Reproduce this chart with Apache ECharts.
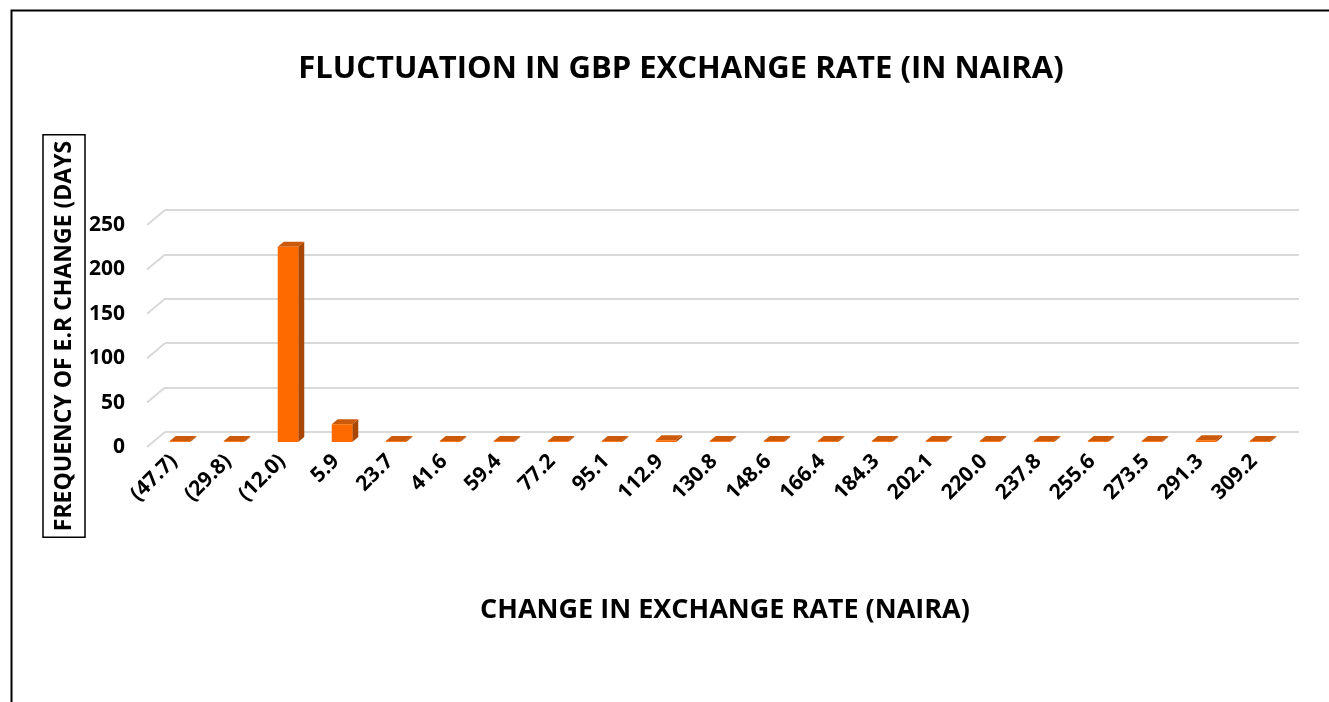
<!DOCTYPE html>
<html>
<head>
<meta charset="utf-8">
<script src="https://cdn.jsdelivr.net/npm/echarts@6/dist/echarts.min.js"></script>
<style>
  html, body { margin: 0; padding: 0; background: #fff; }
  #main { width: 1329px; height: 702px; }
</style>
</head>
<body>
<div id="main"></div>
<script>
// histogram bins (change in naira) and number of days in each
var categories = ['(47.7)', '(29.8)', '(12.0)', '5.9', '23.7', '41.6', '59.4', '77.2', '95.1', '112.9',
                  '130.8', '148.6', '166.4', '184.3', '202.1', '220.0', '237.8', '255.6', '273.5', '291.3', '309.2'];
var frequency = [1, 1, 220, 20, 1, 1, 1, 1, 1, 2, 1, 1, 1, 1, 1, 1, 1, 1, 1, 2, 1];
var yTicks = [0, 50, 100, 150, 200, 250];

var FONT = 'Open Sans';
// fake depth of the excel 3d look: back wall sits up-right of front plane
var DX = 18, DY = 15;

var chart = echarts.init(document.getElementById('main'));

function barItem(params, api) {
    var idx = api.value(0), val = api.value(1);
    var base = api.coord([idx, 0]);
    var top = api.coord([idx, val]);
    var band = api.size([1, 0])[0];
    var w = band * 0.38;
    var fx = DX / 3, fy = -DY / 3;          // front face of bar at 1/3 depth
    var sx = DX / 3, sy = -DY / 3;          // bar depth
    var x0 = base[0] - w / 2 + fx, x1 = x0 + w;
    var yb = base[1] + fy, yt = Math.min(top[1], base[1] - 0.8) + fy;
    return {
        type: 'group',
        children: [
            { type: 'polygon', shape: { points: [[x1, yt], [x1 + sx, yt + sy], [x1 + sx, yb + sy], [x1, yb]] },
              style: { fill: '#A94600' } },
            { type: 'polygon', shape: { points: [[x0, yt], [x0 + sx, yt + sy], [x1 + sx, yt + sy], [x1, yt]] },
              style: { fill: '#CC5A0C' } },
            { type: 'rect', shape: { x: x0, y: yt, width: w, height: yb - yt },
              style: { fill: '#FF6A00' } }
        ]
    };
}

function sideLine(params, api) {
    var p = api.coord([0, api.value(1)]);
    var x = params.coordSys.x;
    return {
        type: 'line',
        shape: { x1: x, y1: p[1], x2: x + DX, y2: p[1] - DY },
        style: { stroke: '#d9d9d9', lineWidth: 2 }
    };
}

var option = {
    backgroundColor: '#fff',
    animation: false,
    graphic: [{
        type: 'rect', left: 9, top: 8, silent: true, z: -1,
        shape: { width: 1400, height: 800 },
        style: { fill: 'none', stroke: '#000', lineWidth: 2 }
    }],
    title: {
        text: 'FLUCTUATION IN GBP EXCHANGE RATE (IN NAIRA)',
        left: 676, top: 49, textAlign: 'center',
        textStyle: { fontFamily: FONT, fontWeight: 'bold', fontSize: 31, color: '#000' }
    },
    grid: [
        { left: 147 + DX, top: 225 - DY, width: 1134, height: 222 },   // back wall
        { left: 147, top: 225, width: 1134, height: 222 }              // front plane
    ],
    xAxis: [
        { gridIndex: 0, type: 'category', data: categories, show: false },
        {
            gridIndex: 1, type: 'category', data: categories,
            axisLine: { show: false }, axisTick: { show: false },
            axisLabel: { interval: 0, rotate: 45, margin: 11, fontFamily: FONT, fontWeight: 'bold', fontSize: 21, color: '#000' },
            name: 'CHANGE IN EXCHANGE RATE (NAIRA)', nameLocation: 'middle', nameGap: 150,
            nameTextStyle: { fontFamily: FONT, fontWeight: 'bold', fontSize: 27, color: '#000', padding: [0, 0, 0, 22] }
        }
    ],
    yAxis: [
        {
            gridIndex: 0, type: 'value', min: 0, max: 250, interval: 50,
            axisLine: { show: false }, axisTick: { show: false }, axisLabel: { show: false },
            splitLine: { lineStyle: { color: '#d9d9d9', width: 2 } }
        },
        {
            gridIndex: 1, type: 'value', min: 0, max: 250, interval: 50,
            axisLine: { show: false }, axisTick: { show: false }, splitLine: { show: false },
            axisLabel: { margin: 22, fontFamily: FONT, fontWeight: 'bold', fontSize: 21, color: '#000' },
            name: 'FREQUENCY OF E.R CHANGE (DAYS', nameLocation: 'middle', nameGap: 62, nameRotate: 90,
            nameMoveOverlap: false,
            nameTextStyle: { fontFamily: FONT, fontWeight: 'bold', fontSize: 23, color: '#000',
                             borderColor: '#000', borderWidth: 1.5, padding: [10, 6, 9, 6] }
        }
    ],
    series: [
        {
            type: 'custom', xAxisIndex: 1, yAxisIndex: 1, silent: true,
            renderItem: sideLine,
            data: yTicks.map(function (v, i) { return [0, v]; })
        },
        {
            type: 'custom', xAxisIndex: 1, yAxisIndex: 1, silent: true, z: 3,
            renderItem: barItem,
            data: frequency.map(function (v, i) { return [i, v]; })
        }
    ]
};
chart.setOption(option);
</script>
</body>
</html>
